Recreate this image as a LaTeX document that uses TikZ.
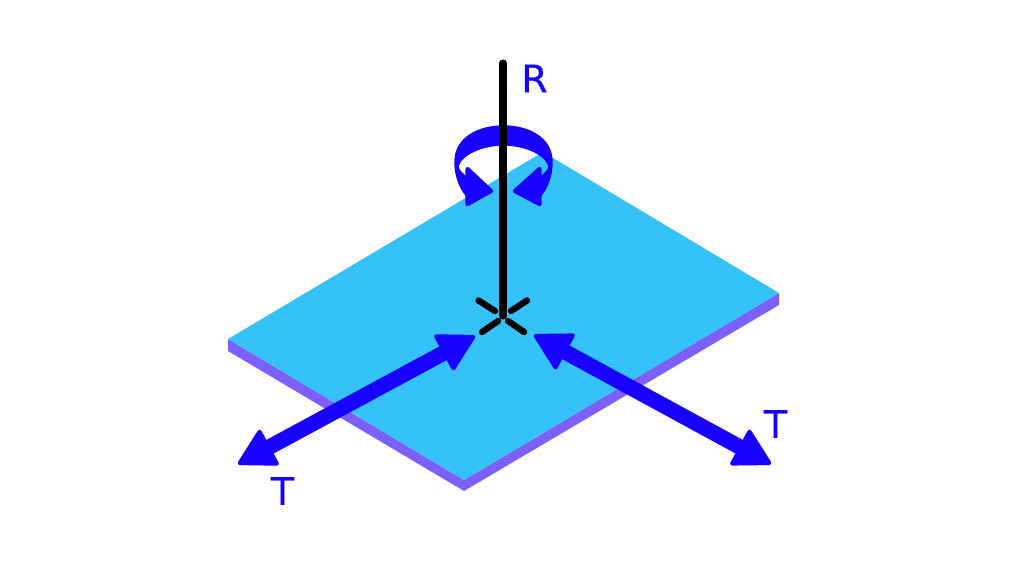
\documentclass[tikz,border=0pt]{standalone}
\usepackage{fontspec}
\setmainfont{DejaVu Sans}
\newfontfamily\labelfont[FakeBold=0.4]{DejaVu Sans}
\usetikzlibrary{arrows.meta}
\definecolor{plateTop}{HTML}{35C2F9}
\definecolor{plateSide}{HTML}{7D60FA}
\definecolor{moveBlue}{HTML}{1800FF}
\tikzstyle{label} = [text=moveBlue, font=\labelfont\fontsize{10.8}{12}\selectfont, inner sep=0pt]
\tikzstyle{arrow} = [draw=moveBlue, line width=4.4pt, {Triangle[round,length=11pt,width=12pt,line width=1.2pt]}-{Triangle[round,length=11pt,width=12pt,line width=1.2pt]}]
\tikzstyle{axis} = [draw=black, line width=2pt, line cap=round]
\tikzstyle{tick} = [draw=black, line width=1.8pt, line cap=round]
\tikzstyle{curl} = [fill=moveBlue, draw=moveBlue, line width=0.4pt, line join=round]
\tikzstyle{curlhead} = [fill=moveBlue, draw=moveBlue, line width=1.2pt, line join=round]
\begin{document}
\begin{tikzpicture}[x=0.01cm, y=-0.01cm]
  \useasboundingbox (0,0) rectangle (1024,576);
  % plate
  \fill[plateSide] (228,339) -- (464,480) -- (779,293) -- (779,305) -- (464,491) -- (228,351) -- cycle;
  \fill[plateTop] (228,339) -- (543,152) -- (779,293) -- (464,480) -- cycle;
  % translation arrows
  \coordinate (tipinleft) at (475,336);
  \coordinate (tipoutleft) at (238,464);
  \coordinate (tipinright) at (534,335);
  \coordinate (tipoutright) at (771,464);
  \draw [arrow] (tipinleft) -- (tipoutleft);
  \draw [arrow] (tipinright) -- (tipoutright);
  % rotation arrow
  \fill[curl] (503.5,126) .. controls (478,126) and (455,138) .. (455,162)
    .. controls (455,176) and (460,190) .. (470,200) -- (478,185) -- (465,176)
    .. controls (461,172) and (458,170) .. (458,166)
    .. controls (462,154) and (482,145) .. (503.5,145)
    .. controls (525,145) and (545,154) .. (549,166)
    .. controls (549,170) and (546,172) .. (542,176) -- (529,185) -- (537,200)
    .. controls (547,190) and (552,176) .. (552,162)
    .. controls (552,138) and (529,126) .. (503.5,126) -- cycle;
  \fill[curlhead] (491,191) -- (467.5,169) -- (467.5,204) -- cycle;
  \fill[curlhead] (515,191) -- (539.5,169) -- (539.5,204) -- cycle;
  % axis and ticks
  \coordinate (axistop) at (503,63);
  \coordinate (axisbase) at (503,316);
  \draw [axis] (axistop) -- (axisbase);
  \draw [tick] (478.5,300.5) -- (495,311);
  \draw [tick] (527,300.5) -- (511,311);
  \draw [tick] (482,332) -- (498,321);
  \draw [tick] (524,332) -- (508,321);
  % labels
  \node (labelR) [label] at (534.5,78.5) {R};
  \node (labelTleft) [label] at (282.5,491) {T};
  \node (labelTright) [label] at (775.5,424) {T};
\end{tikzpicture}
\end{document}
